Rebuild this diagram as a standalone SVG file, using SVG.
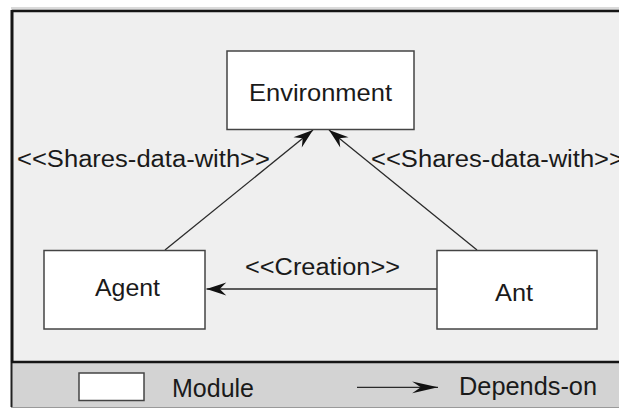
<svg xmlns="http://www.w3.org/2000/svg" width="619" height="409" viewBox="0 0 619 409">
  <style>
    .module { fill: #ffffff; stroke: #444444; stroke-width: 1.5; }
    .label { font-family: "Liberation Sans", Arial, sans-serif; fill: #1a1a1a; }
    .name { font-size: 24px; text-anchor: middle; }
    .stereo { font-size: 23.5px; }
    .legend { font-size: 26px; }
    .edge { stroke: #2a2a2a; stroke-width: 1.3; fill: none; }
  </style>
  <defs>
    <marker id="dep" markerUnits="userSpaceOnUse" markerWidth="22" markerHeight="16" viewBox="-19 -7 20 14" refX="0" refY="0" orient="auto">
      <path d="M0,0 L-18,-6 L-12,0 L-18,6 Z" fill="#111111"/>
    </marker>
    <marker id="dep-legend" markerUnits="userSpaceOnUse" markerWidth="28" markerHeight="14" viewBox="-25 -6 26 12" refX="0" refY="0" orient="auto">
      <path d="M0,0 L-24,-5.5 L-16,0 L-24,5.5 Z" fill="#111111"/>
    </marker>
  </defs>

  <!-- page background -->
  <rect x="0" y="0" width="619" height="409" fill="#ffffff"/>

  <!-- diagram frame -->
  <g id="frame">
    <rect x="11" y="7" width="608" height="3" fill="#dadada"/>
    <rect x="12" y="11" width="607" height="351" fill="#efefef"/>
    <rect x="12" y="362" width="607" height="45" fill="#d3d3d3"/>
    <line x1="12" y1="11" x2="619" y2="11" stroke="#151515" stroke-width="2.5"/>
    <line x1="12" y1="10" x2="12" y2="362" stroke="#151515" stroke-width="3"/>
    <line x1="11.5" y1="362" x2="11.5" y2="407" stroke="#222222" stroke-width="2"/>
    <line x1="11" y1="362" x2="619" y2="362" stroke="#151515" stroke-width="2.5"/>
    <line x1="11" y1="407.5" x2="619" y2="407.5" stroke="#9a9a9a" stroke-width="1"/>
  </g>

  <!-- dependencies between modules -->
  <g id="connectors">
    <line class="edge" x1="165" y1="250" x2="313" y2="130" marker-end="url(#dep)"/>
    <line class="edge" x1="477" y1="250" x2="329" y2="130" marker-end="url(#dep)"/>
    <line class="edge" x1="437" y1="289" x2="206.5" y2="289" marker-end="url(#dep)"/>
    <text class="label stereo" x="17" y="167" textLength="253" lengthAdjust="spacingAndGlyphs">&lt;&lt;Shares-data-with&gt;&gt;</text>
    <text class="label stereo" x="371" y="167" textLength="253" lengthAdjust="spacingAndGlyphs">&lt;&lt;Shares-data-with&gt;&gt;</text>
    <text class="label stereo" x="245" y="275" textLength="155" lengthAdjust="spacingAndGlyphs">&lt;&lt;Creation&gt;&gt;</text>
  </g>

  <g id="environment">
    <rect class="module" x="227" y="51" width="187" height="78.5"/>
    <text class="label name" x="320.5" y="100.5" font-size="25" textLength="143" lengthAdjust="spacingAndGlyphs">Environment</text>
  </g>

  <g id="agent">
    <rect class="module" x="44" y="250.5" width="161" height="78.5"/>
    <text class="label name" x="127.5" y="295.5" textLength="65" lengthAdjust="spacingAndGlyphs">Agent</text>
  </g>

  <g id="ant">
    <rect class="module" x="437" y="250.5" width="160" height="78.5"/>
    <text class="label name" x="514" y="300.5" textLength="38" lengthAdjust="spacingAndGlyphs">Ant</text>
  </g>

  <!-- legend -->
  <g id="legend">
    <rect class="module" x="79" y="373" width="65" height="27.5"/>
    <text class="label legend" x="172" y="396.5" textLength="82" lengthAdjust="spacingAndGlyphs">Module</text>
    <line class="edge" x1="357" y1="387.3" x2="438" y2="387.3" marker-end="url(#dep-legend)"/>
    <text class="label legend" x="459" y="394.5" textLength="138" lengthAdjust="spacingAndGlyphs">Depends-on</text>
  </g>
</svg>
